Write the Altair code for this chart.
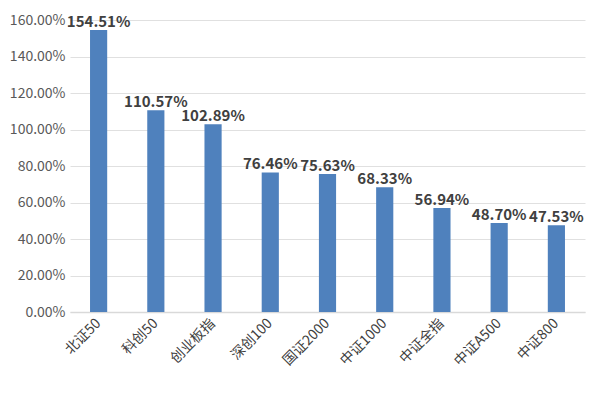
import altair as alt
import pandas as pd

names = ["北证50", "科创50", "创业板指", "深创100", "国证2000", "中证1000", "中证全指", "中证A500", "中证800"]
values = [154.51, 110.57, 102.89, 76.46, 75.63, 68.33, 56.94, 48.70, 47.53]
y_ticks = [0, 20, 40, 60, 80, 100, 120, 140, 160]

df = pd.DataFrame({"name": names, "value": values})
df["label"] = [f"{v:.2f}%" for v in values]

FONT = "Noto Sans CJK SC"

x = alt.X("name:N", sort=names, title=None,
          scale=alt.Scale(paddingInner=0.7, paddingOuter=0.35),
          axis=alt.Axis(labelAngle=-45, labelAlign="right", labelBaseline="middle",
                        labelPadding=9, labelFontSize=14, labelColor="#404040",
                        labelFont=FONT, ticks=False, domainColor="#d9d9d9",
                        domainWidth=1.5, labelOverlap=False))
y = alt.Y("value:Q", title=None,
          scale=alt.Scale(domain=[0, 160], nice=False),
          axis=alt.Axis(values=y_ticks, labelExpr="format(datum.value, '.2f') + '%'",
                        labelFontSize=14, labelColor="#595959", labelFont=FONT,
                        labelPadding=5, ticks=False, domain=False, labelOverlap=False,
                        labelBaseline="middle",
                        gridColor="#e0e0e0", gridWidth=1))

base = alt.Chart(df).encode(x=x, y=y)
bars = base.mark_bar(color="#4f81bd")
text = base.mark_text(baseline="alphabetic", dy=-3, fontSize=15, fontWeight="bold",
                      font=FONT, color="#404040").encode(text="label:N")

chart = (bars + text).properties(
    width=515, height=292,
    background="white",
    autosize=alt.AutoSizeParams(type="none"),
    padding={"left": 62, "top": 12, "right": 15, "bottom": 77},
).configure_view(strokeWidth=0)

chart.save("out.html", embed_options={"renderer": "svg", "actions": False})
